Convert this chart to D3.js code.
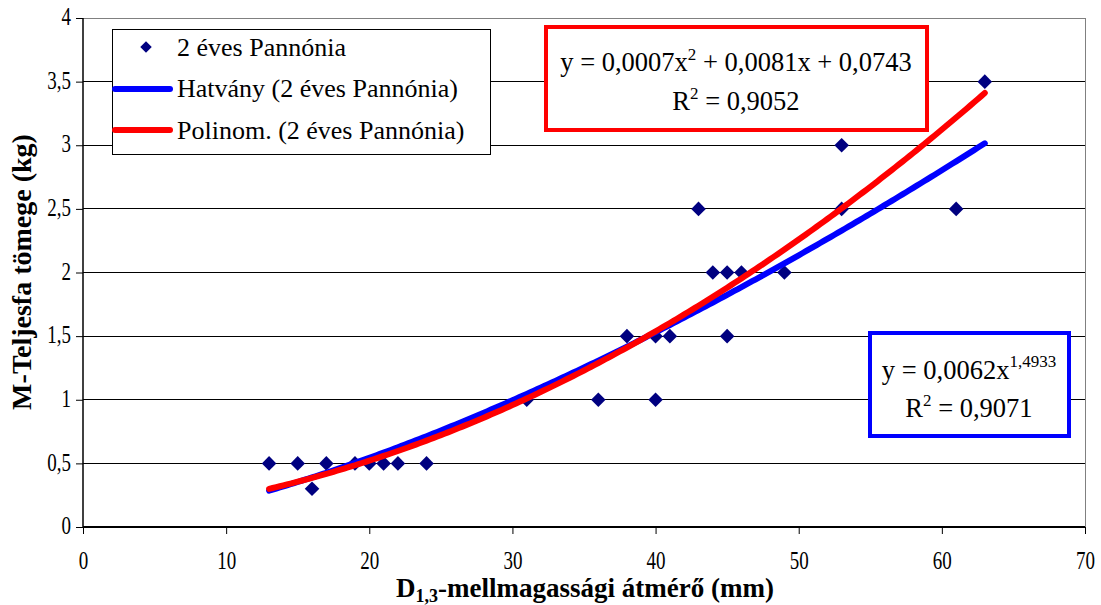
<!DOCTYPE html>
<html><head><meta charset="utf-8">
<script src="https://cdn.jsdelivr.net/npm/d3@7"></script>
<style>body{margin:0;background:#fff}svg{display:block}</style>
</head><body>
<svg id="c" width="1101" height="605" font-family="Liberation Serif"></svg>
<script>
const xVals = [13,15,16,17,19,20,21,22,24,31,36,38,40,40,41,43,44,45,45,46,49,53,53,61,63];
const yVals = [0.5,0.5,0.3,0.5,0.5,0.5,0.5,0.5,0.5,1,1,1.5,1.5,1,1.5,2.5,2,2,1.5,2,2,3,2.5,2.5,3.5];
const xTicks = [0,10,20,30,40,50,60,70];
const yTicks = [0,0.5,1,1.5,2,2.5,3,3.5,4];
const yTickLabels = ["0","0,5","1","1,5","2","2,5","3","3,5","4"];
const powerCoef = [0.0062, 1.4933];
const polyCoef = [0.000712, 0.0081, 0.0743];
const trendRange = [13, 63];
const FONT = "Liberation Serif";

const svg = d3.select("#c");
const x = d3.scaleLinear().domain([0,70]).range([83,1085]);
const y = d3.scaleLinear().domain([0,4]).range([527,18]);

function txt(sel){ return sel.attr("font-family",FONT).attr("fill","#000"); }

// gridlines
svg.append("g").selectAll("line").data(yTicks.filter(d=>d>0 && d<4)).join("line")
  .attr("x1",x(0)).attr("x2",x(70)).attr("y1",d=>y(d)).attr("y2",d=>y(d))
  .attr("stroke","#000").attr("stroke-width",1).attr("shape-rendering","crispEdges");
svg.append("path").attr("d",`M${x(0)},${y(4)}H${x(70)}V${y(0)}`).attr("fill","none")
  .attr("stroke","#808080").attr("stroke-width",1).attr("shape-rendering","crispEdges");

// axes
const SY = 1.35;
const yAxis = d3.axisLeft(y).tickValues(yTicks).tickFormat((d,i)=>yTickLabels[i]).tickSize(7).tickPadding(0);
const gy = svg.append("g").attr("transform",`translate(${x(0)},0)`).call(yAxis);
const xAxis = d3.axisBottom(x).tickValues(xTicks).tickFormat(d=>String(d)).tickSize(7).tickPadding(0);
const gx = svg.append("g").attr("transform",`translate(0,${y(0)})`).call(xAxis);
[gx,gy].forEach(g=>{
  g.attr("font-family",FONT);
  g.select(".domain").attr("stroke","#000").attr("stroke-width",1.5);
  g.selectAll(".tick line").attr("stroke","#000");
  txt(g.selectAll(".tick text")).attr("font-size",19);
});
gy.selectAll(".tick text").attr("x",-12).attr("dy","0.26em").attr("transform",`scale(1,${SY})`);
gx.selectAll(".tick text").attr("y",42/SY).attr("dy","0").attr("transform",`scale(1,${SY})`);
gx.select(".domain").attr("d",`M${x(0)},0H${x(70)}`).attr("stroke-width",2);
gy.select(".domain").attr("d",`M0,${y(0)}V${y(4)}`);

// points
const sym = d3.symbol().type(d3.symbolDiamond2).size(135);
svg.append("g").selectAll("path").data(xVals.map((v,i)=>[v,yVals[i]])).join("path")
  .attr("d",sym).attr("transform",d=>`translate(${x(d[0])},${y(d[1])})`)
  .attr("fill","#000080");

// trendlines
const xs = d3.range(trendRange[0], trendRange[1]+0.001, 0.25);
const line = d3.line().x(d=>x(d[0])).y(d=>y(d[1]));
svg.append("path").datum(xs.map(v=>[v, powerCoef[0]*Math.pow(v,powerCoef[1])]))
  .attr("d",line).attr("fill","none").attr("stroke","#0000ff").attr("stroke-width",6).attr("stroke-linecap","round");
svg.append("path").datum(xs.map(v=>[v, polyCoef[0]*v*v+polyCoef[1]*v+polyCoef[2]]))
  .attr("d",line).attr("fill","none").attr("stroke","#ff0000").attr("stroke-width",6).attr("stroke-linecap","round");

// legend
const lg = svg.append("g");
lg.append("rect").attr("x",112.5).attr("y",29.5).attr("width",378).attr("height",125)
  .attr("fill","#fff").attr("stroke","#000").attr("stroke-width",1);
lg.append("path").attr("d",d3.symbol().type(d3.symbolDiamond2).size(85)).attr("transform","translate(146,47)").attr("fill","#000080");
lg.append("line").attr("x1",115).attr("x2",170).attr("y1",89).attr("y2",89).attr("stroke","#0000ff").attr("stroke-width",6).attr("stroke-linecap","round");
lg.append("line").attr("x1",115).attr("x2",170).attr("y1",130).attr("y2",130).attr("stroke","#ff0000").attr("stroke-width",6).attr("stroke-linecap","round");
const lt = ["2 éves Pannónia","Hatvány (2 éves Pannónia)","Polinom. (2 éves Pannónia)"];
const ly = [56,97,139];
lt.forEach((t,i)=>txt(lg.append("text")).attr("x",177).attr("y",ly[i]).attr("font-size",26).text(t));

// red equation box
svg.append("rect").attr("x",546).attr("y",27).attr("width",381).attr("height",103)
  .attr("fill","#fff").attr("stroke","#ff0000").attr("stroke-width",4);
let t1 = txt(svg.append("text")).attr("x",736).attr("y",71).attr("text-anchor","middle").attr("font-size",26.5);
t1.append("tspan").text("y = 0,0007x");
t1.append("tspan").attr("font-size",17).attr("dy",-11).text("2");
t1.append("tspan").attr("dy",11).text(" + 0,0081x + 0,0743");
let t2 = txt(svg.append("text")).attr("x",736).attr("y",110).attr("text-anchor","middle").attr("font-size",26.5);
t2.append("tspan").text("R");
t2.append("tspan").attr("font-size",17).attr("dy",-11).text("2");
t2.append("tspan").attr("dy",11).text(" = 0,9052");

// blue equation box
svg.append("rect").attr("x",870).attr("y",333).attr("width",199).attr("height",103)
  .attr("fill","#fff").attr("stroke","#0000ff").attr("stroke-width",4);
let t3 = txt(svg.append("text")).attr("x",969).attr("y",379).attr("text-anchor","middle").attr("font-size",26.5);
t3.append("tspan").text("y = 0,0062x");
t3.append("tspan").attr("font-size",17).attr("dy",-12).text("1,4933");
let t4 = txt(svg.append("text")).attr("x",969).attr("y",417).attr("text-anchor","middle").attr("font-size",26.5);
t4.append("tspan").text("R");
t4.append("tspan").attr("font-size",17).attr("dy",-11).text("2");
t4.append("tspan").attr("dy",11).text(" = 0,9071");

// axis titles
txt(svg.append("text")).attr("transform","translate(31,272) rotate(-90)").attr("text-anchor","middle")
  .attr("font-size",28).attr("font-weight","bold").text("M-Teljesfa tömege (kg)");
let xt = txt(svg.append("text")).attr("x",585).attr("y",597).attr("text-anchor","middle")
  .attr("font-size",27).attr("font-weight","bold");
xt.append("tspan").text("D");
xt.append("tspan").attr("font-size",18).attr("dy",5).text("1,3");
xt.append("tspan").attr("dy",-5).text("-mellmagassági átmérő (mm)");
</script>
</body></html>
